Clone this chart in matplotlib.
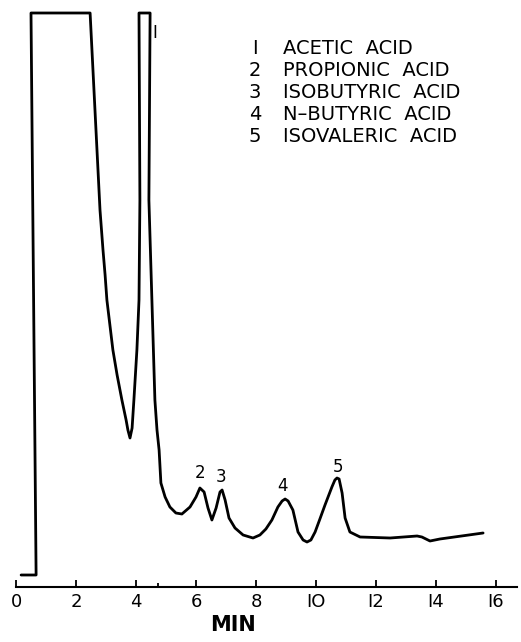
import matplotlib
matplotlib.use("Agg")
import matplotlib.pyplot as plt
import numpy as np

# trace: time (min) and detector response (arbitrary units)
time = [0.17, 0.67, 0.50, 2.47, 2.80, 2.85, 2.90, 2.97, 3.03, 3.13, 3.23, 3.37,
        3.53, 3.67, 3.73, 3.80, 3.87, 3.93, 4.03, 4.10, 4.13, 4.10, 4.47, 4.43,
        4.53, 4.63, 4.70, 4.77, 4.83, 4.97, 5.13, 5.33, 5.53, 5.80, 6.00, 6.13,
        6.27, 6.40, 6.53, 6.67, 6.80, 6.87, 6.97, 7.10, 7.30, 7.57, 7.90, 8.13,
        8.33, 8.53, 8.73, 8.87, 8.97, 9.07, 9.23, 9.40, 9.57, 9.70, 9.83, 9.97,
        10.13, 10.30, 10.53, 10.63, 10.70, 10.77, 10.87, 10.97, 11.13, 11.47,
        12.47, 13.37, 13.53, 13.80, 14.13, 15.57]
signal = [12, 12, 574, 574, 377, 357, 337, 312, 287, 262, 237, 212,
          187, 167, 157, 149, 159, 187, 237, 287, 387, 574, 574, 387,
          287, 187, 157, 137, 104, 90, 80, 74, 73, 80, 90, 99,
          95, 79, 67, 79, 95, 97, 87, 69, 59, 52, 49, 52,
          58, 67, 80, 86, 88, 86, 77, 55, 47, 45, 47, 55,
          68, 82, 100, 107, 109, 108, 94, 69, 55, 50,
          49, 51, 50, 46, 48, 54]

peak_ids = ["I", "2", "3", "4", "5"]
peak_t = [4.63, 6.13, 6.83, 8.87, 10.73]
peak_s = [554, 114, 110, 101, 120]

legend_nums = ["I", "2", "3", "4", "5"]
legend_names = ["ACETIC  ACID", "PROPIONIC  ACID", "ISOBUTYRIC  ACID",
                "N\u2013BUTYRIC  ACID", "ISOVALERIC  ACID"]

xticks = [0, 2, 4, 6, 8, 10, 12, 14, 16]
xticklabels = ["0", "2", "4", "6", "8", "IO", "I2", "I4", "I6"]

fig = plt.figure(figsize=(5.21, 6.42), dpi=100)
ax = fig.add_axes([16 / 521, 55 / 642, 501 / 521, 587 / 642])
ax.set_xlim(0, 16.7)
ax.set_ylim(0, 587)

ax.plot(time, signal, color="black", lw=2.0, solid_joinstyle="round",
        solid_capstyle="round")

for lab, t, s in zip(peak_ids, peak_t, peak_s):
    ax.text(t, s, lab, ha="center", va="center", fontsize=12)

for i, (n, name) in enumerate(zip(legend_nums, legend_names)):
    y = 539 - i * 22
    ax.text(7.97, y, n, ha="center", va="center", fontsize=14)
    ax.text(8.9, y, name, ha="left", va="center", fontsize=14)

for s in ["left", "right", "top"]:
    ax.spines[s].set_visible(False)
ax.spines["bottom"].set_linewidth(1.5)
ax.set_yticks([])
ax.set_xticks(xticks)
ax.set_xticklabels(xticklabels, fontsize=13)
ax.set_xticks([4.73], minor=True)
ax.tick_params(axis="x", which="major", direction="in", length=5, width=1.3, pad=4)
ax.tick_params(axis="x", which="minor", direction="in", length=3, width=1.3)
ax.set_xlabel("MIN", fontsize=15, fontweight="bold", labelpad=4)
ax.xaxis.set_label_coords((233 - 16) / 501, -0.048)

fig.savefig("out.png", dpi=100)
